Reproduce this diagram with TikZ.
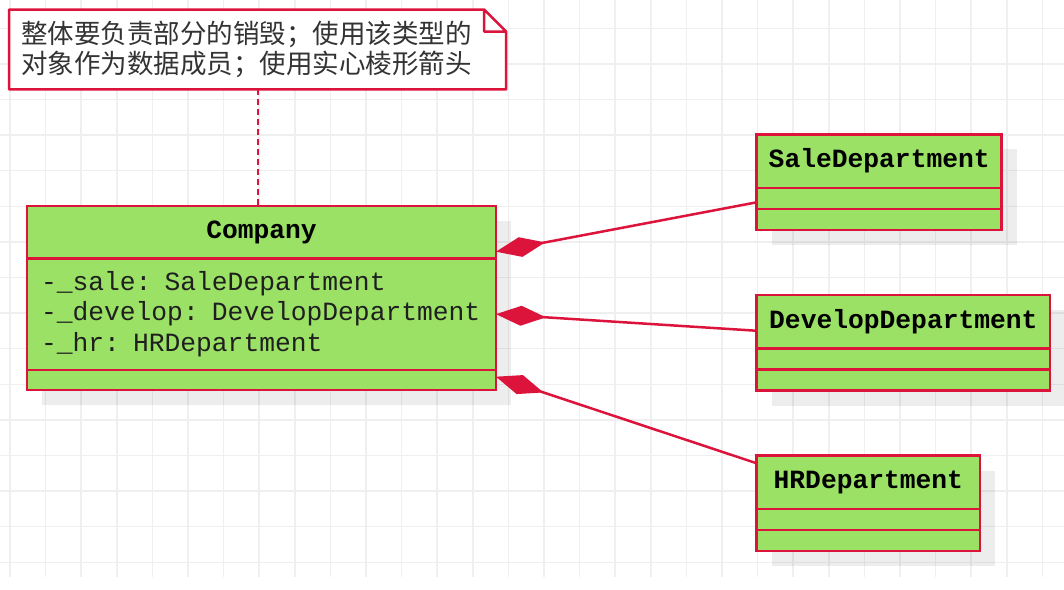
\documentclass[tikz,border=0pt]{standalone}
\usepackage{fontspec}
\setmonofont{Liberation Mono}
\newfontfamily\cjk{Noto Sans CJK SC}
\usetikzlibrary{positioning,arrows.meta,shadows}

\definecolor{umlred}{HTML}{DC143C}
\definecolor{umlgreen}{HTML}{9AE165}
\definecolor{notetext}{HTML}{333333}
\definecolor{gridgray}{HTML}{EFEFEF}

\tikzset{
    gridline/.style={draw=gridgray, line width=1.5pt},
    classbox/.style={draw=umlred, fill=umlgreen, line width=2.5pt, inner sep=0pt, outer sep=0pt,
        drop shadow={shadow xshift=15pt, shadow yshift=-15pt, opacity=0.07, fill=black}},
    classname/.style={classbox, minimum height=53.5pt, font=\ttfamily\bfseries\fontsize{26.3}{30}\selectfont},
    classpart/.style={classbox, minimum height=21pt},
    attrs/.style={classbox, align=left, inner xsep=14pt, text=black!88,
        font=\ttfamily\fontsize{26.3}{30.5}\selectfont},
    notebox/.style={fill=white, inner xsep=12pt, inner ysep=0pt, align=left, text=notetext,
        font=\cjk\fontsize{26.5}{30}\selectfont},
    relation/.style={draw=umlred, line width=2.5pt, -{Diamond[length=50pt,width=20pt]}}
}

\begin{document}
\begin{tikzpicture}[x=1pt, y=-1pt]
        \fill[white] (0,0) rectangle (1064,589);
        \useasboundingbox (0,0) rectangle (1064,589);

        % grid
        \foreach \gx in {0,...,29}
            \draw[gridline] ({10+35.6*\gx},0) -- ({10+35.6*\gx},577);
        \foreach \gy in {0,...,15}
            \draw[gridline] (0,{28.3+35.6*\gy}) -- (1064,{28.3+35.6*\gy});

        % note
        \node (note) [notebox, anchor=north west, minimum width=496.7pt, minimum height=79.5pt,
            text width=472.7pt] at (9,9.5)
            {整体要负责部分的销毁；使用该类型的\\对象作为数据成员；使用实心棱形箭头};
        \draw[draw=umlred, line width=2.5pt, line join=round]
            (note.north west) -- ([xshift=-22pt]note.north east)
            -- ([yshift=-22pt]note.north east) -- (note.south east)
            -- (note.south west) -- cycle
            ([xshift=-22pt]note.north east) |- ([yshift=-22pt]note.north east);

        % classes
        \node (company) [classname, anchor=north west, minimum width=469pt, minimum height=52.3pt] at (27,206) {Company};
        \node (company-attr) [attrs, below=0pt of company, text width=441pt, minimum height=111.7pt]
            {-\_sale: SaleDepartment\\-\_develop: DevelopDepartment\\-\_hr: HRDepartment};
        \node (company-ops) [classpart, below=0pt of company-attr, minimum width=469pt, minimum height=20pt] {};

        \node (sale) [classname, anchor=north west, minimum width=245pt] at (756.7,134.3) {SaleDepartment};
        \node (sale-attr) [classpart, below=0pt of sale, minimum width=245pt] {};
        \node (sale-ops) [classpart, below=0pt of sale-attr, minimum width=245pt] {};

        \node (develop) [classname, anchor=north west, minimum width=293.3pt] at (756.7,295) {DevelopDepartment};
        \node (develop-attr) [classpart, below=0pt of develop, minimum width=293.3pt] {};
        \node (develop-ops) [classpart, below=0pt of develop-attr, minimum width=293.3pt] {};

        \node (hr) [classname, anchor=north west, minimum width=223.3pt] at (756.7,455.7) {HRDepartment};
        \node (hr-attr) [classpart, below=0pt of hr, minimum width=223.3pt] {};
        \node (hr-ops) [classpart, below=0pt of hr-attr, minimum width=223.3pt] {};

        % links
        \draw[draw=umlred, line width=2pt, dash pattern=on 6pt off 4pt] (note.south) -- (note.south |- company.north);
        \draw[relation] ([yshift=-4pt]sale-attr.west) -- ([yshift=6.6pt]company.south east);
        \draw[relation] ([yshift=-9pt]develop.west) -- (company-attr.east);
        \draw[relation] ([yshift=-7.6pt]hr.north west) -- ([yshift=3.3pt]company-ops.east);
\end{tikzpicture}
\end{document}
